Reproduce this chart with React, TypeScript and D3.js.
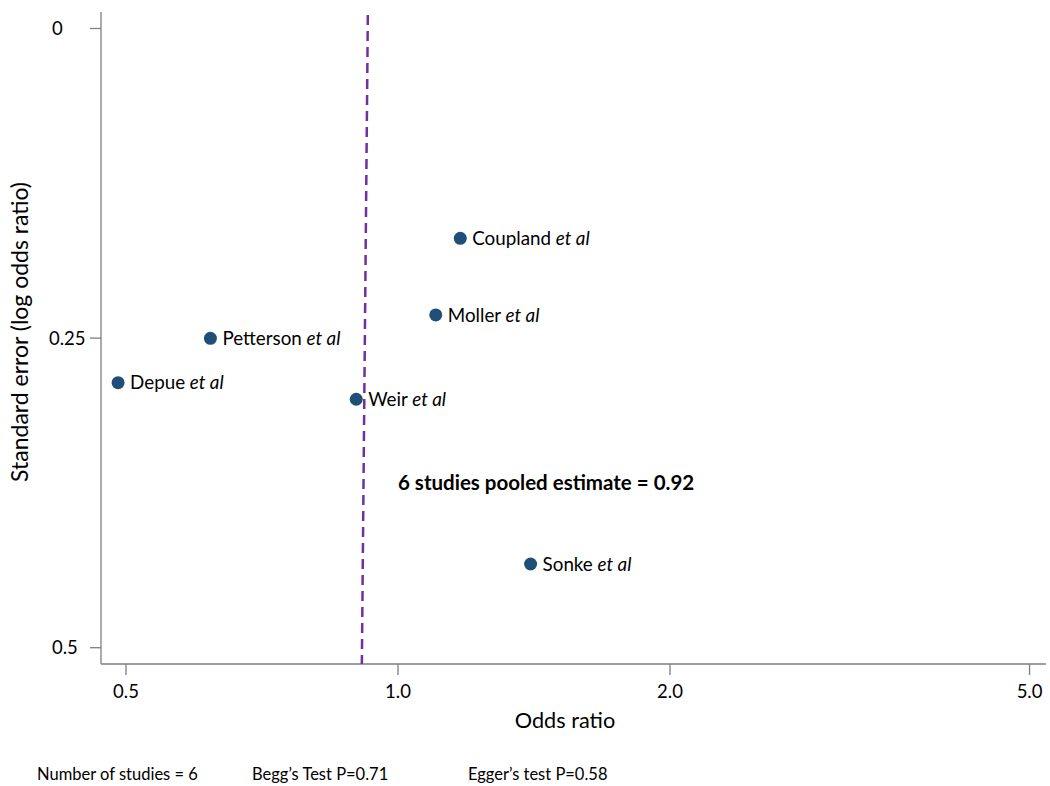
import React from "react";
import * as d3 from "d3";

const studies = ["Coupland", "Moller", "Petterson", "Depue", "Weir", "Sonke"];
const oddsRatios = [1.172, 1.101, 0.62, 0.49, 0.899, 1.402];
const stdErrors = [0.1694, 0.2313, 0.2502, 0.286, 0.2994, 0.4324];
const xTicks = [0.5, 1.0, 2.0, 5.0];
const yTicks = [0, 0.25, 0.5];
const pooledTop = 0.926;
const pooledBottom = 0.912;
const pooledText = "6 studies pooled estimate = 0.92";
const footer = ["Number of studies = 6", "Begg\u2019s Test  P=0.71", "Egger\u2019s test P=0.58"];

const W = 1050;
const H = 786;
const FONT = "Lato, 'Open Sans', sans-serif";

export default function App() {
  const x = d3.scaleLog().domain([0.5, 1]).range([126, 398]);
  const y = d3.scaleLinear().domain([0, 0.5]).range([28.5, 647.7]);
  const axisColor = "#7f7f7f";
  const left = 101;
  const bottom = 664;

  return (
    <svg width={W} height={H} style={{ position: "absolute", left: 0, top: 0, background: "#fff" }} fontFamily={FONT}>
      <rect width={W} height={H} fill="#fff" />
      <line x1={left} x2={left} y1={12} y2={bottom} stroke={axisColor} strokeWidth={1.3} />
      <line x1={left} x2={1046} y1={bottom} y2={bottom} stroke={axisColor} strokeWidth={1.3} />
      {yTicks.map((t) => (
        <g key={"y" + t}>
          <line x1={90} x2={left} y1={y(t)} y2={y(t)} stroke={axisColor} strokeWidth={1.3} />
          <text x={t === 0.25 ? 49 : 52} y={y(t)} dy="0.35em" fontSize={18.5} fill="#000">
            {String(t)}
          </text>
        </g>
      ))}
      {xTicks.map((t) => (
        <g key={"x" + t}>
          <line x1={x(t)} x2={x(t)} y1={bottom} y2={bottom + 11} stroke={axisColor} strokeWidth={1.3} />
          <text x={x(t)} y={692} dy="0.35em" textAnchor="middle" fontSize={18.5} fill="#000">
            {t.toFixed(1)}
          </text>
        </g>
      ))}
      <line
        x1={x(pooledTop)}
        x2={x(pooledBottom)}
        y1={15}
        y2={bottom}
        stroke="#7030a0"
        strokeWidth={2.5}
        strokeDasharray="10,6"
      />
      {studies.map((s, i) => (
        <g key={s}>
          <circle cx={x(oddsRatios[i])} cy={y(stdErrors[i])} r={6.5} fill="#1f4e79" />
          <text x={x(oddsRatios[i]) + 12} y={y(stdErrors[i])} dy="0.35em" fontSize={18.8} fill="#000">
            {s + " "}
            <tspan fontStyle="italic">et al</tspan>
          </text>
        </g>
      ))}
      <text x={398} y={483} dy="0.35em" fontSize={20.5} fontWeight="bold" fill="#000">
        {pooledText}
      </text>
      <text x={565} y={720} dy="0.35em" textAnchor="middle" fontSize={21.7} fill="#000">
        Odds ratio
      </text>
      <text
        transform={`translate(20,${332}) rotate(-90)`}
        textAnchor="middle"
        dy="0.35em"
        fontSize={23}
        fill="#000"
      >
        Standard error (log odds ratio)
      </text>
      {footer.map((f, i) => (
        <text key={f} x={[37, 252, 468][i]} y={774} dy="0.35em" fontSize={16.5} fill="#000">
          {f}
        </text>
      ))}
    </svg>
  );
}
